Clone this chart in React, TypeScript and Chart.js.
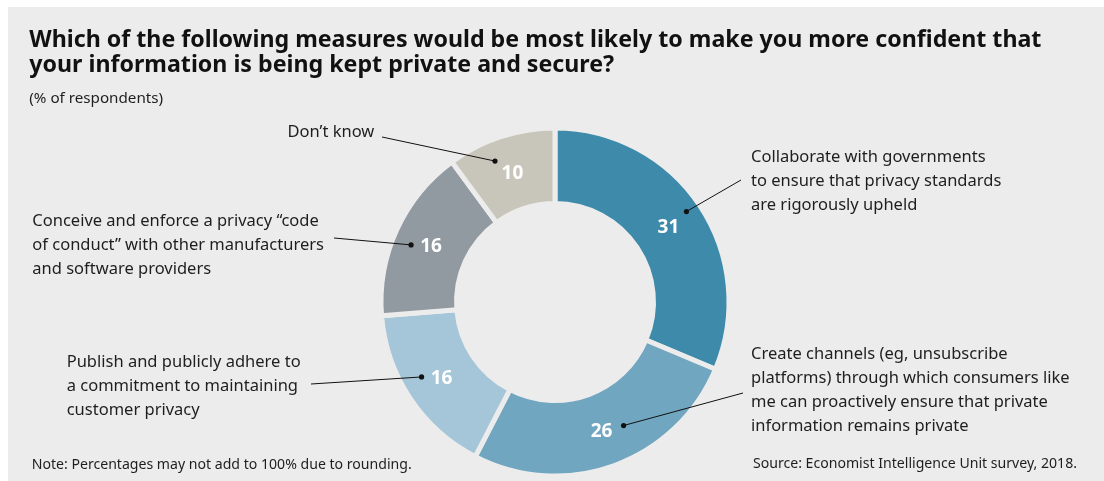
import React, { useEffect, useRef } from "react";
import { Chart, registerables } from "chart.js";

Chart.register(...registerables);

// ---------- data ----------
const categories = [
  "Collaborate with governments to ensure that privacy standards are rigorously upheld",
  "Create channels (eg, unsubscribe platforms) through which consumers like me can proactively ensure that private information remains private",
  "Publish and publicly adhere to a commitment to maintaining customer privacy",
  "Conceive and enforce a privacy “code of conduct” with other manufacturers and software providers",
  "Don’t know",
];
const values = [31, 26, 16, 16, 10];
const labelLines = [
  ["Collaborate with governments", "to ensure that privacy standards", "are rigorously upheld"],
  [
    "Create channels (eg, unsubscribe",
    "platforms) through which consumers like",
    "me can proactively ensure that private",
    "information remains private",
  ],
  ["Publish and publicly adhere to", "a commitment to maintaining", "customer privacy"],
  ["Conceive and enforce a privacy “code", "of conduct” with other manufacturers", "and software providers"],
  ["Don’t know"],
];
const titleLines = [
  "Which of the following measures would be most likely to make you more confident that",
  "your information is being kept private and secure?",
];
const subtitle = "(% of respondents)";
const note = "Note: Percentages may not add to 100% due to rounding.";
const source = "Source: Economist Intelligence Unit survey, 2018.";

// ---------- style / layout ----------
const BG = "#ececec";
const colors = ["#3d8aab", "#71a6c0", "#a5c5d9", "#9199a1", "#c8c6bb"];
const FONT = "'Noto Sans', 'DejaVu Sans', sans-serif";
const PANEL_W = 1096;
const PANEL_H = 474;

type Lay = { x: number; baseline: number; align: "left" | "right" };
const labelLayout: Lay[] = [
  { x: 743, baseline: 155.3, align: "left" },
  { x: 743, baseline: 352.3, align: "left" },
  { x: 58.7, baseline: 360.3, align: "left" },
  { x: 24.3, baseline: 219.7, align: "left" },
  { x: 366.3, baseline: 130.7, align: "right" },
];
const leaderEnds = [
  [733, 173],
  [735, 386],
  [303, 377],
  [326, 231],
  [374, 130],
];
const dotOffsets = [
  [18, -15],
  [22, -4.5],
  [-20, -0.5],
  [-20, -0.5],
  [-17.5, -11.5],
];

function baselineTop(baseline: number, size: number, lh: number) {
  const off = (lh - 1.362 * size) / 2 + 1.069 * size;
  return baseline - off;
}

const TextBlock: React.FC<{
  lines: string[];
  x: number;
  baseline: number;
  size: number;
  lh: number;
  align?: "left" | "right";
  weight?: number;
  color?: string;
}> = ({ lines, x, baseline, size, lh, align = "left", weight = 400, color = "#1e1e1e" }) => {
  const style: React.CSSProperties = {
    position: "absolute",
    top: baselineTop(baseline, size, lh),
    fontFamily: FONT,
    fontSize: size,
    lineHeight: lh + "px",
    fontWeight: weight,
    color,
    whiteSpace: "nowrap",
    textAlign: align,
  };
  if (align === "left") style.left = x;
  else style.right = PANEL_W - x;
  return (
    <div style={style}>
      {lines.map((l, i) => (
        <div key={i}>{l}</div>
      ))}
    </div>
  );
};

const labelPlugin = {
  id: "sliceLabels",
  afterDatasetsDraw(chart: any) {
    const ctx = chart.ctx as CanvasRenderingContext2D;
    const meta = chart.getDatasetMeta(0);
    meta.data.forEach((arc: any, i: number) => {
      const p = arc.getProps(["x", "y", "startAngle", "endAngle", "innerRadius", "outerRadius"], true);
      const mid = (p.startAngle + p.endAngle) / 2;
      const r = (p.innerRadius + p.outerRadius) / 2;
      const tx = p.x + Math.cos(mid) * r;
      const ty = p.y + Math.sin(mid) * r;
      const dx = tx + dotOffsets[i][0];
      const dy = ty + dotOffsets[i][1];
      ctx.save();
      // leader line
      ctx.strokeStyle = "#111";
      ctx.lineWidth = 1;
      ctx.beginPath();
      ctx.moveTo(dx, dy);
      ctx.lineTo(leaderEnds[i][0], leaderEnds[i][1]);
      ctx.stroke();
      ctx.fillStyle = "#111";
      ctx.beginPath();
      ctx.arc(dx, dy, 2.6, 0, Math.PI * 2);
      ctx.fill();
      // value
      ctx.fillStyle = "#ffffff";
      ctx.font = `bold 19px ${FONT}`;
      ctx.textAlign = "center";
      ctx.textBaseline = "middle";
      ctx.fillText(String(chart.data.datasets[0].data[i]), tx, ty + 1.5);
      ctx.restore();
    });
  },
};

export default function App() {
  const ref = useRef<HTMLCanvasElement | null>(null);
  useEffect(() => {
    if (!ref.current) return;
    const chart = new Chart(ref.current, {
      type: "doughnut",
      data: {
        labels: categories,
        datasets: [
          {
            data: values,
            backgroundColor: colors,
            borderColor: BG,
            borderWidth: 5,
            hoverOffset: 0,
          },
        ],
      },
      options: {
        animation: false,
        responsive: false,
        devicePixelRatio: 1,
        cutout: "56.6%",
        rotation: 0,
        layout: { padding: { left: 370.5, right: 372.5, top: 118.5, bottom: 2.5 } },
        plugins: {
          legend: { display: false },
          tooltip: { enabled: false },
          title: { display: false },
        },
        events: [],
      },
      plugins: [labelPlugin],
    });
    return () => chart.destroy();
  }, []);

  return (
    <div
      style={{
        position: "fixed",
        left: 8,
        top: 7,
        width: PANEL_W,
        height: PANEL_H,
        background: BG,
        overflow: "hidden",
      }}
    >
      <canvas
        ref={ref}
        width={PANEL_W}
        height={PANEL_H}
        style={{ position: "absolute", left: 0, top: 0, width: PANEL_W, height: PANEL_H }}
      />
      <TextBlock lines={titleLines} x={21.3} baseline={40.7} size={23.2} lh={25.5} weight={700} color="#111" />
      <TextBlock lines={[subtitle]} x={21.3} baseline={96.3} size={15.2} lh={20} />
      {labelLines.map((lines, i) => (
        <TextBlock
          key={i}
          lines={lines}
          x={labelLayout[i].x}
          baseline={labelLayout[i].baseline}
          align={labelLayout[i].align}
          size={16.5}
          lh={24}
        />
      ))}
      <TextBlock lines={[note]} x={23.7} baseline={462.3} size={14.1} lh={18} />
      <TextBlock lines={[source]} x={1069} baseline={461.5} size={14.1} lh={18} align="right" />
    </div>
  );
}
